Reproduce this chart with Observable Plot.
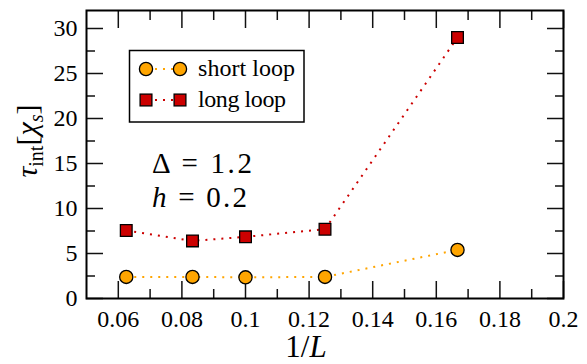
<!DOCTYPE html>
<html><head><meta charset="utf-8">
<script src="https://cdn.jsdelivr.net/npm/d3@7"></script>
<script src="https://cdn.jsdelivr.net/npm/@observablehq/plot@0.6"></script>
<style>
body{margin:0;background:#fff}
#wrap{position:relative;width:587px;height:364px}
#wrap svg{position:absolute;left:0;top:0}
#wrap svg text, #wrap svg tspan{font-family:"Liberation Serif","Times New Roman",serif !important}
</style>
</head><body><div id="wrap"></div>
<script>
// ---- data ----
const invL = [1/16, 1/12, 1/10, 1/8, 1/6];
const shortLoop = [2.4, 2.4, 2.35, 2.4, 5.4];
const longLoop = [7.55, 6.4, 6.85, 7.7, 29.0];
const seriesNames = ["short loop", "long loop"];
const seriesColors = ["#ffa500", "#cc0000"];
const xMajor = [0.06, 0.08, 0.10, 0.12, 0.14, 0.16, 0.18, 0.20];
const xTickLabels = ["0.06", "0.08", "0.1", "0.12", "0.14", "0.16", "0.18", "0.2"];
const xMinor = [0.07, 0.09, 0.11, 0.13, 0.15, 0.17, 0.19];
const yMajor = [0, 5, 10, 15, 20, 25, 30];
const yTickLabels = ["0", "5", "10", "15", "20", "25", "30"];
const yMinor = [2.5, 7.5, 12.5, 17.5, 22.5, 27.5];

const shortRows = invL.map((x, i) => ({x, y: shortLoop[i]}));
const longRows = invL.map((x, i) => ({x, y: longLoop[i]}));

const serif = "Liberation Serif";
const dash = "2,6";

const tk = {tickFormat: () => "", label: null, stroke: "#111", strokeWidth: 1.5};
const plot = Plot.plot({
  width: 587, height: 364,
  marginLeft: 86, marginRight: 24, marginTop: 10, marginBottom: 66,
  style: {fontFamily: serif, fontSize: "24px"},
  x: {domain: [0.05, 0.2]},
  y: {domain: [0, 32]},
  marks: [
    Plot.line(shortRows, {x: "x", y: "y", stroke: seriesColors[0], strokeWidth: 2, strokeDasharray: dash, strokeLinecap: "butt"}),
    Plot.line(longRows, {x: "x", y: "y", stroke: seriesColors[1], strokeWidth: 2, strokeDasharray: dash, strokeLinecap: "butt"}),
    Plot.axisX(xMajor, {anchor: "bottom", tickSize: 17, dy: -17, ...tk}),
    Plot.axisX(xMinor, {anchor: "bottom", tickSize: 9, dy: -9, ...tk}),
    Plot.axisX(xMajor, {anchor: "top", tickSize: 17, dy: 17, ...tk}),
    Plot.axisX(xMinor, {anchor: "top", tickSize: 9, dy: 9, ...tk}),
    Plot.axisY(yMajor, {anchor: "left", tickSize: 17, dx: 17, ...tk}),
    Plot.axisY(yMinor, {anchor: "left", tickSize: 9, dx: 9, ...tk}),
    Plot.axisY(yMajor, {anchor: "right", tickSize: 17, dx: -17, ...tk}),
    Plot.axisY(yMinor, {anchor: "right", tickSize: 9, dx: -9, ...tk}),
    Plot.axisX(xMajor, {anchor: "bottom", tickSize: 0, tickPadding: 11, label: null,
      fontFamily: serif, fontSize: 24,
      tickFormat: d => xTickLabels[xMajor.indexOf(d)]}),
    Plot.axisY(yMajor, {anchor: "left", tickSize: 0, tickPadding: 9, label: null,
      fontFamily: serif, fontSize: 24,
      tickFormat: d => yTickLabels[yMajor.indexOf(d)]}),
    Plot.dot(shortRows, {x: "x", y: "y", symbol: "circle", r: 6.6, fill: seriesColors[0], stroke: "#000", strokeWidth: 1.3}),
    Plot.dot(longRows, {x: "x", y: "y", symbol: "square", r: 6.6, fill: seriesColors[1], stroke: "#000", strokeWidth: 1.3}),
    Plot.frame({stroke: "#000", strokeWidth: 2})
  ]
});
const wrap = document.getElementById("wrap");
wrap.appendChild(plot);

// ---- overlay: labels, annotations, legend ----
const ov = d3.select(wrap).append("svg").attr("width", 587).attr("height", 364)
  .attr("font-family", serif).attr("fill", "#000");
const txt = (sel, size) => sel.append("text").attr("font-family", serif).attr("font-size", size);

// y label
const yl = txt(ov, 30).attr("transform", "translate(37,141) rotate(-90)").attr("text-anchor", "middle");
yl.append("tspan").attr("font-style", "italic").text("τ");
yl.append("tspan").attr("font-size", 20).attr("dy", 6).text("int");
yl.append("tspan").attr("dy", -6).text("[");
yl.append("tspan").attr("font-style", "italic").text("χ");
yl.append("tspan").attr("font-style", "italic").attr("font-size", 20).attr("dy", 6).text("s");
yl.append("tspan").attr("dy", -6).text("]");

// x label
const xl = txt(ov, 31).attr("x", 306).attr("y", 357).attr("text-anchor", "middle");
xl.append("tspan").text("1/");
xl.append("tspan").attr("font-style", "italic").text("L");

// annotations
const a1 = txt(ov, 29).attr("x", 152).attr("y", 173).attr("textLength", 100).attr("lengthAdjust", "spacing");
a1.append("tspan").text("Δ = 1.2");
const a2 = txt(ov, 29).attr("x", 152).attr("y", 207).attr("textLength", 95).attr("lengthAdjust", "spacing");
a2.append("tspan").attr("font-style", "italic").text("h");
a2.append("tspan").text(" = 0.2");

// legend
ov.append("rect").attr("x", 129.5).attr("y", 50.5).attr("width", 174.5).attr("height", 71.5)
  .attr("fill", "#fff").attr("stroke", "#000").attr("stroke-width", 1.5);
const rowsY = [69, 100];
seriesNames.forEach((name, i) => {
  const cy = rowsY[i];
  ov.append("line").attr("x1", 146).attr("x2", 180).attr("y1", cy).attr("y2", cy)
    .attr("stroke", seriesColors[i]).attr("stroke-width", 2).attr("stroke-dasharray", dash).attr("stroke-dashoffset", -9);
  [146, 180].forEach(cx => {
    if (i === 0) {
      ov.append("circle").attr("cx", cx).attr("cy", cy).attr("r", 6.6)
        .attr("fill", seriesColors[i]).attr("stroke", "#000").attr("stroke-width", 1.3);
    } else {
      ov.append("rect").attr("x", cx - 5.9).attr("y", cy - 5.9).attr("width", 11.8).attr("height", 11.8)
        .attr("fill", seriesColors[i]).attr("stroke", "#000").attr("stroke-width", 1.3);
    }
  });
  txt(ov, 24).attr("x", 198).attr("y", cy + 7)
    .attr("textLength", i === 0 ? 97 : 88).attr("lengthAdjust", "spacing").text(name);
});
</script>
</body></html>
